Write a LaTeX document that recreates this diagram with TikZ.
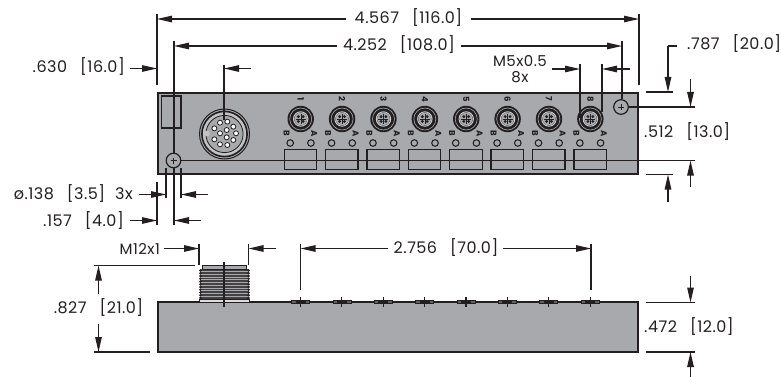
\documentclass[tikz,border=0pt]{standalone}
\usepackage{fontspec}
\setmainfont[LetterSpace=3]{Poppins}
\usetikzlibrary{arrows.meta}
\definecolor{bodygray}{HTML}{A7A9AC}
\definecolor{inkc}{HTML}{231F20}
\tikzset{
  dim/.style={inkc,line width=1.15pt},
  dimarrow/.style={dim,-{Triangle[length=15pt,width=6.5pt]}},
  dimtext/.style={inner sep=0pt,text=inkc,font=\fontsize{16}{18}\selectfont},
  smalltext/.style={inner sep=0pt,text=inkc,font=\fontsize{15}{17}\selectfont},
  outline/.style={draw=inkc,line width=1.5pt},
  tiny/.style={inner sep=0pt,text=inkc,font=\fontsize{8.5}{9}\selectfont\bfseries,rotate=-90},
}
\newcommand{\gap}{\hspace{13pt}}
\begin{document}
\begin{tikzpicture}[x=1pt,y=-1pt]
\useasboundingbox (0,0) rectangle (781,377);
% --- top view body
\draw[outline,fill=bodygray] (158,93) rectangle (638,174);
\draw[outline] (161.5,96) rectangle (181,128);
% big connector
\draw[inkc,line width=1pt,fill=bodygray] (224.5,134) circle (25);
\draw[inkc,line width=1.6pt,fill=bodygray!70!white] (224.5,134) circle (22.6);
\draw[inkc,line width=.8pt,fill=bodygray] (224.5,134) circle (18.6);
\draw[bodygray!70!white,fill=bodygray!70!white] (207,133.5) circle (2.6);
\foreach \px/\py in {643/385,660/368,682/365,700/380,708/400,700/420,682/435,660/433,643/418,660/400,680/390,680/412}
  \draw[inkc,line width=.8pt,fill=white] (\px/3,\py/3) circle (2.5);
% mounting holes
\draw[inkc,line width=1.2pt,fill=bodygray] (173.5,160.5) circle (7.3);
\draw[inkc,line width=1.2pt,fill=bodygray] (621,107) circle (7.3);
\draw[dim,line width=.9pt] (170.5,160.5) -- (176.5,160.5) (173.5,157.5) -- (173.5,163.5);
\draw[dim,line width=.9pt] (618,107) -- (624,107) (621,104) -- (621,110);
% small ports
\foreach \n in {1,...,8}{
  \pgfmathsetmacro{\cx}{300.7+(\n-1)*41.38}
  \begin{scope}[shift={(\cx,0)}]
    \fill[inkc] (0,119) circle (13.2);
    \draw[bodygray,line width=.6pt] (0,119) circle (11);
    \draw[bodygray!60!white,line width=1pt] (0,119) circle (7.2);
    \fill[bodygray] (0,119) circle (6.4);
    \foreach \dx/\dy in {-2.4/-2.4,2.4/-2.4,-2.4/2.4,2.4/2.4}
      \fill[inkc] (\dx,119+\dy) circle (1.6);
    \draw[inkc,line width=.4pt] (-5,119) -- (5,119) (0,114) -- (0,124);
    \node[tiny] (num\n) at (0,99) {\n};
    \node[tiny] (b\n) at (-14,133.5) {B};
    \node[tiny] (a\n) at (13.5,133.5) {A};
    \draw[inkc,line width=1.05pt] (-10.5,143) circle (3.3);
    \draw[inkc,line width=1.05pt] (10.2,143) circle (3.3);
    \draw[outline,line width=1.3pt] (-16.5,149.5) rectangle (16,169.5);
  \end{scope}
}
% top-view dimensions
\coordinate (xa) at (157,14); \coordinate (xb) at (157,85);
\draw[dim] (xa) -- (xb);
\draw[dim] (639,14) -- (639,85);
\draw[dim] (174,41) -- (174,153);
\draw[dim] (622,41) -- (622,99);
\draw[dim] (224,65) -- (224,120);
\draw[dim] (580,64) -- (580,118);
\draw[dim] (602,64) -- (602,112);
\draw[dimarrow] (346,19) -- (157,19);
\draw[dimarrow] (471,19) -- (639,19);
\node[dimtext] (t4567) at (408.5,18) {4.567\gap[116.0]};
\draw[dimarrow] (337,46) -- (174,46);
\draw[dimarrow] (461,46) -- (622,46);
\node[dimtext] (t4252) at (399,45) {4.252\gap[108.0]};
\node[dimtext,anchor=east] (t630) at (125,67) {.630\gap[16.0]};
\draw[dimarrow] (130,68.5) -- (157,68.5);
\draw[dimarrow] (251,68.5) -- (224,68.5);
\node[smalltext] (tm5) at (520,61) {M5x0.5};
\node[smalltext] (t8x) at (520,77) {8x};
\draw[dimarrow] (552,69) -- (580,69);
\draw[dimarrow] (630,69) -- (602,69);
\node[dimtext,anchor=west] (t787) at (687,44) {.787\gap[20.0]};
\draw[dim] (677,46) -- (668,46);
\draw[dimarrow] (668,46) -- (668,92);
\draw[dim] (646,92) -- (672.5,92);
\draw[dim] (646,174.5) -- (672.5,174.5);
\draw[dimarrow] (668,202) -- (668,174.5);
\draw[dimarrow] (690.5,79) -- (690.5,107);
\draw[dim] (629,107) -- (695,107);
\draw[dim] (181,160.5) -- (695,160.5);
\draw[dimarrow] (690.5,187) -- (690.5,160.5);
\node[dimtext,anchor=west] (t512) at (644,132) {.512\gap[13.0]};
% hole dims
\draw[dim] (157,182) -- (157,225);
\draw[dim] (174,168) -- (174,225);
\draw[dim] (166,168) -- (166,198);
\draw[dim] (181,168) -- (181,198);
\node[dimtext,anchor=east] (t138) at (133,194) {ø.138\gap[3.5]\hspace{10pt}3x};
\draw[dimarrow] (139,194.5) -- (166,194.5);
\draw[dimarrow] (208,194.5) -- (181,194.5);
\node[dimtext,anchor=east] (t157) at (124,221) {.157\gap[4.0]};
\draw[dimarrow] (130,220.5) -- (157,220.5);
\draw[dimarrow] (201,220.5) -- (174,220.5);
% --- side view body
\draw[outline,fill=bodygray] (158,302) rectangle (638,352);
% threaded connector
\fill[inkc!85!white] (201,269) rectangle (248,299);
\foreach \k in {0,...,10}{
  \draw[inkc,fill=inkc] (200.5,270.5+\k*2.75) circle (1.1);
  \draw[inkc,fill=inkc] (248.5,270.5+\k*2.75) circle (1.1);
  \draw[bodygray,line width=.6pt] (201,271.5+\k*2.75) -- (248,271.5+\k*2.75);
}
\draw[outline,line width=1pt,fill=bodygray] (202.7,265) rectangle (246,269);
\draw[outline,line width=1pt,fill=bodygray!40!white] (199.5,299) rectangle (249.5,302);
\draw[dim] (224,262) -- (224,307);
% side ports
\foreach \n in {1,...,8}{
  \pgfmathsetmacro{\cx}{300.5+(\n-1)*41.38}
  \begin{scope}[shift={(\cx,0)}]
    \draw[inkc,line width=.7pt,fill=inkc!70!white] (-9,300.5) rectangle (9,303.5);
    \draw[dim] (0,297) -- (0,307) (-5,302) -- (5,302);
  \end{scope}
}
% side-view dimensions
\draw[dim] (199,244) -- (199,265);
\draw[dim] (248.5,244) -- (248.5,265);
\node[smalltext,anchor=east] (tm12) at (160,249) {M12x1};
\draw[dimarrow] (164,248.5) -- (199,248.5);
\draw[dimarrow] (276,248.5) -- (248.5,248.5);
\draw[dim] (300.5,244) -- (300.5,290);
\draw[dim] (591,244) -- (591,290);
\draw[dimarrow] (388,248.5) -- (300.5,248.5);
\draw[dimarrow] (503,248.5) -- (591,248.5);
\node[dimtext] (t2756) at (446,248) {2.756\gap[70.0]};
\draw[dim] (94,265.5) -- (195,265.5);
\draw[dim] (94,352) -- (150,352);
\draw[dimarrow] (98.5,294) -- (98.5,265.5);
\draw[dimarrow] (98.5,324) -- (98.5,352);
\node[dimtext] (t827) at (98.5,308) {.827\gap[21.0]};
\draw[dim] (645.5,302.5) -- (695,302.5);
\draw[dim] (645.5,352) -- (695,352);
\draw[dimarrow] (690.5,276) -- (690.5,302.5);
\draw[dimarrow] (690.5,377) -- (690.5,352);
\node[dimtext,anchor=west] (t472) at (644,327) {.472\gap[12.0]};
\end{tikzpicture}
\end{document}
